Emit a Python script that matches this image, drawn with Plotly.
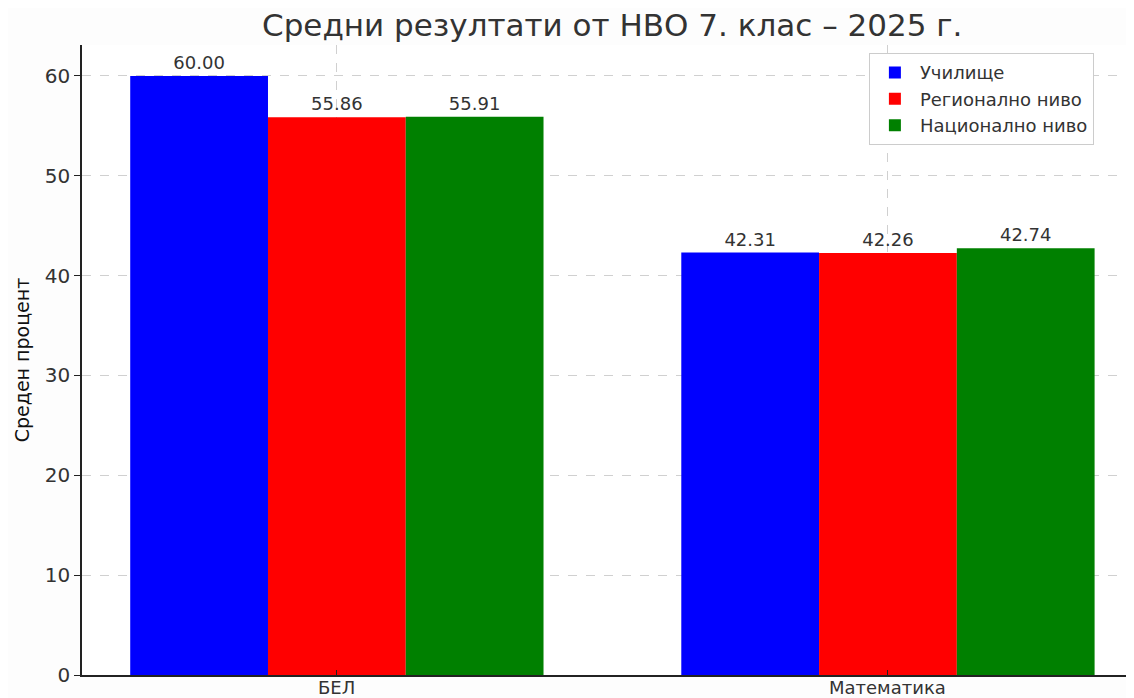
import plotly.graph_objects as go

# data
subjects = ["БЕЛ", "Математика"]
series_names = ["Училище", "Регионално ниво", "Национално ниво"]
school = [60.00, 42.31]
regional = [55.86, 42.26]
national = [55.91, 42.74]
colors = ["#0000ff", "#ff0000", "#008000"]

FONT = "DejaVu Sans, sans-serif"
TEXT = "#333333"

fig = go.Figure()
for name, vals, col in zip(series_names, [school, regional, national], colors):
    fig.add_trace(go.Bar(
        x=[0, 1], y=vals, name=name, marker_color=col, marker_line_width=0,
        texttemplate="%{y:.2f}", textposition="outside", cliponaxis=False,
        textfont=dict(size=18, color=TEXT, family=FONT),
    ))

# category labels placed by hand just under the axis so they stay on the page
for i, lab in enumerate(subjects):
    fig.add_annotation(x=i, y=0, xref="x", yref="y", text=lab, showarrow=False,
                       yanchor="top", yshift=-1, borderpad=0,
                       font=dict(size=18, color=TEXT, family=FONT))

grid = dict(showgrid=True, gridcolor="#d0d0d0", griddash="dash", gridwidth=1)

# page body adds an 8px offset, so the figure is a bit smaller than the window
fig.update_layout(
    width=1126, height=690,
    barmode="group", bargap=0.25, bargroupgap=0,
    paper_bgcolor="#fdfdfd", plot_bgcolor="#ffffff",
    font=dict(family=FONT, color=TEXT),
    margin=dict(l=74, r=0, t=37, b=23, autoexpand=False),
    title=dict(text="Средни резултати от НВО 7. клас – 2025 г.",
               x=0.5366, xanchor="center", y=0.975, yanchor="middle",
               font=dict(size=31, color=TEXT, family=FONT)),
    legend=dict(x=0.748, y=0.987, xanchor="left", yanchor="top",
                bgcolor="#ffffff", bordercolor="#cccccc", borderwidth=1,
                font=dict(size=18, color=TEXT, family=FONT),
                itemwidth=40, tracegroupgap=0),
    showlegend=True,
)
fig.update_xaxes(range=[-0.4625, 1.4465], tickvals=[0, 1], showticklabels=False,
                 showline=True, linecolor="#222222", linewidth=1.5,
                 ticks="inside", ticklen=5, tickcolor="#222222",
                 zeroline=False, automargin=False, **grid)
fig.update_yaxes(range=[0, 63.1], dtick=10,
                 showline=True, linecolor="#222222", linewidth=1.5,
                 ticks="outside", ticklen=6, tickcolor="#222222",
                 tickfont=dict(size=20, color=TEXT), zeroline=False,
                 automargin=False,
                 title=dict(text="Среден процент", standoff=10,
                            font=dict(size=19, color="#111111", family=FONT)),
                 **grid)

fig.write_html("out.html")
